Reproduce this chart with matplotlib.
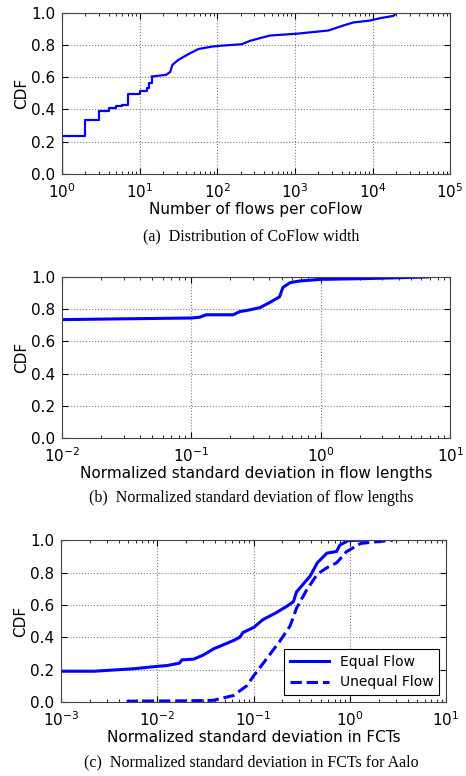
import matplotlib.pyplot as plt
from matplotlib.ticker import LogLocator, NullFormatter
import numpy as np

# %% DATA

# (a) flows per coFlow CDF: stair part for small widths, smooth part after
width_step_x = [1, 1, 2, 3, 4, 5, 6, 7, 10, 12.3, 13.2, 14.3]
width_step_cdf = [0.0, 0.236, 0.335, 0.391, 0.408, 0.422, 0.427, 0.495,
                  0.515, 0.532, 0.563, 0.604]
width_x = [14.3, 18, 22, 24.7, 26.5, 31.6, 42.4, 57, 85, 114, 207, 265, 356,
           480, 1050, 2700, 4450, 5660, 9300, 12600, 18600, 20500]
width_cdf = [0.604, 0.61, 0.615, 0.632, 0.677, 0.708, 0.743, 0.775, 0.79,
             0.796, 0.805, 0.826, 0.843, 0.859, 0.87, 0.89, 0.925, 0.94,
             0.952, 0.967, 0.981, 1.0]

# (b) normalized std of flow lengths
len_x = [0.01, 0.03, 0.1, 0.116, 0.13, 0.21, 0.237, 0.28, 0.34, 0.40, 0.48,
         0.51, 0.58, 0.69, 1.0, 2.3, 6.7]
len_cdf = [0.735, 0.74, 0.745, 0.75, 0.765, 0.765, 0.785, 0.795, 0.81, 0.84,
           0.876, 0.935, 0.965, 0.975, 0.985, 0.99, 1.0]

# (c) normalized std of FCTs
eq_x = [0.001, 0.0022, 0.0056, 0.01, 0.0126, 0.017, 0.018, 0.024, 0.03, 0.039,
        0.045, 0.062, 0.072, 0.078, 0.1, 0.126, 0.17, 0.22, 0.26, 0.28, 0.33,
        0.39, 0.46, 0.58, 0.73, 0.79, 0.97, 1.5]
eq_cdf = [0.19, 0.19, 0.205, 0.22, 0.225, 0.24, 0.26, 0.265, 0.29, 0.33,
          0.345, 0.38, 0.40, 0.43, 0.46, 0.51, 0.55, 0.59, 0.62, 0.68, 0.73,
          0.78, 0.86, 0.92, 0.93, 0.97, 0.998, 1.0]
uneq_x = [0.0048, 0.02, 0.038, 0.062, 0.085, 0.1, 0.138, 0.19, 0.24, 0.28,
          0.355, 0.46, 0.58, 0.73, 0.93, 1.3, 2.8]
uneq_cdf = [0.005, 0.007, 0.01, 0.04, 0.10, 0.16, 0.27, 0.38, 0.47, 0.58,
            0.69, 0.79, 0.83, 0.86, 0.93, 0.98, 1.0]

xlabels = ['Number of flows per coFlow',
           'Normalized standard deviation in flow lengths',
           'Normalized standard deviation in FCTs']
captions = ['(a)  Distribution of CoFlow width',
            '(b)  Normalized standard deviation of flow lengths',
            '(c)  Normalized standard deviation in FCTs for Aalo']
xlims = [(1, 1e5), (1e-2, 1e1), (1e-3, 1e1)]

BLUE = '#0000ff'

# %% PLOT

fig = plt.figure(figsize=(4.66, 7.76), dpi=100)
rects = [[0.133, 0.776, 0.833, 0.2075],
         [0.133, 0.4356, 0.833, 0.2075],
         [0.131, 0.0954, 0.826, 0.2085]]
cap_y = [1 - 236 / 776, 1 - 498 / 776, 1 - 762 / 776]

axes = [fig.add_axes(r) for r in rects]

axes[0].plot(width_step_x, width_step_cdf, color=BLUE, lw=1.6, drawstyle='steps-post')
axes[0].plot(width_x, width_cdf, color=BLUE, lw=1.6)
axes[1].plot(len_x, len_cdf, color=BLUE, lw=2.2)
axes[2].plot(eq_x, eq_cdf, color=BLUE, lw=2.2, label='Equal Flow')
axes[2].plot(uneq_x, uneq_cdf, color=BLUE, lw=2.2, ls='--', label='Unequal Flow')
axes[2].legend(loc='lower right', fontsize=10, fancybox=False,
               edgecolor='black', framealpha=1, handlelength=2.8)
axes[2].get_legend().get_frame().set_linewidth(0.8)

for i, ax in enumerate(axes):
    ax.set_xscale('log')
    ax.set_xlim(*xlims[i])
    ax.set_ylim(0, 1)
    ax.set_yticks(np.arange(0, 1.01, 0.2))
    ax.set_yticklabels(['%.1f' % v for v in np.arange(0, 1.01, 0.2)])
    ax.xaxis.set_major_locator(LogLocator(base=10, numticks=10))
    ax.xaxis.set_minor_locator(LogLocator(base=10, subs=np.arange(2, 10), numticks=20))
    ax.xaxis.set_minor_formatter(NullFormatter())
    ax.grid(True, which='major', ls=':', color='gray', lw=0.8)
    ax.tick_params(which='both', direction='in', top=True, right=True, labelsize=11)
    ax.tick_params(which='major', length=4)
    ax.tick_params(which='minor', length=2)
    ax.tick_params(axis='x', pad=6)
    ax.tick_params(axis='y', pad=5)
    ax.set_ylabel('CDF', fontsize=11, labelpad=1)
    ax.set_xlabel(xlabels[i], fontsize=11, labelpad=1)
    for s in ax.spines.values():
        s.set_color('#444444')
    fig.text(0.54, cap_y[i], captions[i], ha='center', va='center',
             family='Liberation Serif', fontsize=11.5)

fig.savefig('out.png', dpi=100)
